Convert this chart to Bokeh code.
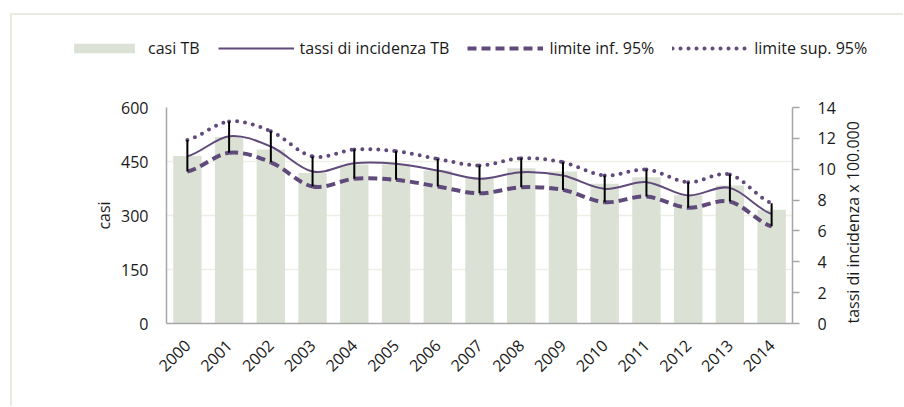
from math import pi
from bokeh.plotting import figure
from bokeh.layouts import column
from bokeh.models import (Range1d, LinearAxis, FixedTicker, Legend, LegendItem)
from bokeh.embed import file_html
from bokeh.resources import INLINE

# ---- data ----
years = ["2000", "2001", "2002", "2003", "2004", "2005", "2006", "2007",
         "2008", "2009", "2010", "2011", "2012", "2013", "2014"]
casi = [465, 518, 483, 418, 442, 442, 425, 404, 431, 422, 388, 406, 356, 383, 316]
tasso = [10.84, 12.14, 11.47, 9.85, 10.39, 10.35, 9.92, 9.38, 9.81, 9.59, 8.73, 9.16, 8.30, 8.79, 7.10]
lim_inf = [9.85, 11.06, 10.45, 8.88, 9.38, 9.31, 8.88, 8.44, 8.83, 8.66, 7.86, 8.23, 7.50, 7.90, 6.30]
lim_sup = [11.90, 13.10, 12.46, 10.82, 11.28, 11.17, 10.67, 10.24, 10.71, 10.45, 9.59, 9.98, 9.16, 9.66, 7.80]
casi_ticks = [0, 150, 300, 450, 600]
tasso_ticks = [0, 2, 4, 6, 8, 10, 12, 14]
legend_labels = ["casi TB", "tassi di incidenza TB", "limite inf. 95%", "limite sup. 95%"]

PURPLE = "#604a7b"
BAR = "#dce1d5"
GRID = "#efefe6"
AXIS = "#a6a6a6"
BORDER = "#ebeae1"
TEXT = "#1a1a1a"
FONT = "Open Sans"

xs = list(range(len(years)))


def smooth(vals):
    n = len(vals)
    out = dict(x0=[], y0=[], x1=[], y1=[], cx0=[], cy0=[], cx1=[], cy1=[])
    for i in range(n - 1):
        prev_v = vals[i - 1] if i > 0 else vals[i]
        next_v = vals[i + 2] if i + 2 < n else vals[i + 1]
        out["x0"].append(xs[i]); out["y0"].append(vals[i])
        out["x1"].append(xs[i + 1]); out["y1"].append(vals[i + 1])
        out["cx0"].append(xs[i] + 1 / 3); out["cy0"].append(vals[i] + (vals[i + 1] - prev_v) / 6)
        out["cx1"].append(xs[i + 1] - 1 / 3); out["cy1"].append(vals[i + 1] - (next_v - vals[i]) / 6)
    return out


W = 891
LEG_H = 50
MAIN_H = 341

# ---------------- main chart ----------------
p = figure(width=W, height=MAIN_H,
           x_range=Range1d(-0.5, len(years) - 0.5), y_range=Range1d(0, 600),
           output_backend="svg", toolbar_location=None,
           min_border_left=154, min_border_right=111, min_border_top=42,
           min_border_bottom=83)
p.extra_y_ranges = {"rate": Range1d(0, 14)}
p.outline_line_color = None
p.xgrid.grid_line_color = None
p.ygrid.ticker = FixedTicker(ticks=casi_ticks)
p.ygrid.grid_line_color = GRID
p.ygrid.grid_line_width = 1.5

p.vbar(x=xs, top=casi, width=0.68, fill_color=BAR, line_color=None)
p.bezier(y_range_name="rate", line_color=PURPLE, line_width=2, **smooth(tasso))
p.bezier(y_range_name="rate", line_color=PURPLE, line_width=4, line_dash="9 5",
         **smooth(lim_inf))
p.bezier(y_range_name="rate", line_color=PURPLE, line_width=4, line_dash="0 8",
         line_cap="round", **smooth(lim_sup))
p.segment(x0=xs, y0=lim_inf, x1=xs, y1=lim_sup, y_range_name="rate",
          line_color="black", line_width=2)

ya = p.yaxis[0]
ya.ticker = FixedTicker(ticks=casi_ticks)
ya.axis_label = "casi"
xa = p.xaxis[0]
xa.ticker = FixedTicker(ticks=xs)
xa.major_label_overrides = {i: y for i, y in zip(xs, years)}
xa.major_label_orientation = pi / 4
ra = LinearAxis(y_range_name="rate", ticker=FixedTicker(ticks=tasso_ticks),
                axis_label="tassi di incidenza x 100.000")
try:
    ra.axis_label_orientation = pi / 2
    ra.axis_label_align = "start"
except Exception:
    pass
p.add_layout(ra, "right")

for ax in (ya, xa, ra):
    ax.axis_line_color = AXIS
    ax.axis_line_width = 1.5
    ax.major_tick_in = 0
    ax.major_tick_out = 0
    ax.minor_tick_in = 0
    ax.minor_tick_out = 0
    ax.major_tick_line_color = AXIS
    ax.major_tick_line_width = 1.5
    ax.major_label_text_font = FONT
    ax.major_label_text_font_size = "16px"
    ax.major_label_text_color = TEXT
    ax.axis_label_text_font = FONT
    ax.axis_label_text_font_size = "16px"
    ax.axis_label_text_font_style = "normal"
    ax.axis_label_text_color = TEXT
ra.major_tick_out = 7
ya.major_label_standoff = 18
ya.axis_label_standoff = 3
ra.major_label_standoff = 18
ra.axis_label_standoff = 14
xa.major_label_standoff = 19

# ---------------- legend strip ----------------
lg = figure(width=W, height=LEG_H, x_range=Range1d(-0.5, len(years) - 0.5),
            y_range=Range1d(0, 600), output_backend="svg", toolbar_location=None,
            x_axis_location=None, y_axis_location=None,
            min_border_left=0, min_border_right=0, min_border_top=0, min_border_bottom=0)
lg.extra_y_ranges = {"rate": Range1d(0, 14)}
lg.outline_line_color = None
lg.grid.grid_line_color = None
r_b = lg.vbar(x=xs, top=casi, width=0.68, fill_color=BAR, line_color=None, visible=False)
r_t = lg.line(xs, tasso, y_range_name="rate", line_color=PURPLE, line_width=2, visible=False)
r_i = lg.line(xs, lim_inf, y_range_name="rate", line_color=PURPLE, line_width=4,
              line_dash="9 5", visible=False)
r_s = lg.line(xs, lim_sup, y_range_name="rate", line_color=PURPLE, line_width=4,
              line_dash="0 8", line_cap="round", visible=False)

legend = Legend(items=[LegendItem(label=lab, renderers=[r])
                       for lab, r in zip(legend_labels, [r_b, r_t, r_i, r_s])],
                orientation="horizontal", location=(54, 6),
                glyph_width=76, glyph_height=12, label_standoff=6, spacing=18,
                padding=0, margin=0, border_line_color=None, background_fill_alpha=0,
                inactive_fill_alpha=0, label_text_font=FONT, label_text_font_size="16px",
                label_text_color=TEXT)
lg.add_layout(legend)

for fig in (lg, p):
    try:
        fig.frame_align = False
    except Exception:
        pass

layout = column(lg, p, spacing=0)
layout.styles = {"margin-left": "10px", "margin-top": "13px",
                 "border-left": f"2px solid {BORDER}", "border-top": f"2px solid {BORDER}"}
open("out.html", "w").write(file_html(layout, INLINE))
